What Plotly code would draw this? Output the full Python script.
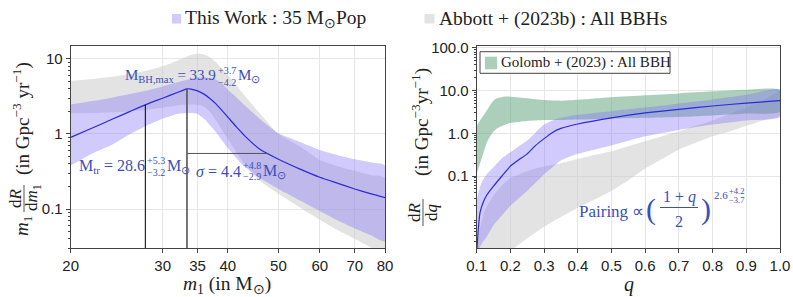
import numpy as np
import plotly.graph_objects as go

W, H = 793, 297

# ---------------- data: left panel (primary mass) ----------------
M1_GRID = [20, 22, 24, 26, 28, 30, 32, 33.4, 34, 35, 36, 37, 38, 39, 40, 41.5, 43, 46, 50, 55, 60,
           65, 70, 75, 80]
M1_MEDIAN = [0.90, 1.20, 1.57, 2.00, 2.50, 3.00, 3.57, 4.00, 3.97, 3.75, 3.40, 2.95, 2.50, 2.05,
             1.68, 1.25, 0.96, 0.63, 0.46, 0.34, 0.265, 0.22, 0.185, 0.16, 0.142]
M1_LAV_UP = [2.47, 2.75, 3.05, 3.4, 3.8, 4.3, 4.9, 5.3, 5.45, 5.6, 5.65, 5.6, 5.3, 4.7, 3.9, 3.1,
             2.45, 1.6, 1.02, 0.78, 0.61, 0.52, 0.46, 0.42, 0.38]
M1_LAV_LO = [0.38, 0.55, 0.72, 1.0, 1.3, 1.6, 1.85, 1.9, 1.9, 1.85, 1.6, 1.3, 1.05, 0.82, 0.65,
             0.48, 0.37, 0.26, 0.185, 0.13, 0.094, 0.07, 0.055, 0.045, 0.037]
M1_GRAY_UP = [5.1, 5.4, 5.8, 6.3, 7.0, 8.0, 9.5, 10.8, 11.3, 11.7, 11.5, 10.5, 9.0, 7.4, 6.0, 4.5,
              3.3, 1.9, 1.0, 0.68, 0.45, 0.37, 0.32, 0.285, 0.26]
M1_GRAY_LO = [1.9, 1.9, 1.95, 2.0, 2.1, 2.25, 2.4, 2.47, 2.48, 2.45, 2.3, 1.95, 1.5, 1.12, 0.85,
              0.58, 0.4, 0.24, 0.16, 0.105, 0.072, 0.052, 0.04, 0.031, 0.025]
M_TR_LINE = 27.8
M_BH_LINE = 33.4
SIGMA_LEVEL = 0.55

# ---------------- data: right panel (mass ratio) ----------------
Q_GRID = [0.1, 0.105, 0.11, 0.12, 0.13, 0.15, 0.175, 0.2, 0.225, 0.25, 0.275, 0.3, 0.325, 0.35,
          0.4, 0.5, 0.6, 0.7, 0.8, 0.9, 1.0]
Q_MEDIAN = [0.0015, 0.006, 0.014, 0.025, 0.036, 0.058, 0.10, 0.17, 0.24, 0.33, 0.52, 0.75, 1.05,
            1.3, 1.65, 2.3, 3.0, 3.65, 4.35, 5.1, 5.8]
Q_LAV_UP = [0.027, 0.04, 0.056, 0.085, 0.11, 0.16, 0.26, 0.36, 0.5, 0.68, 1.05, 1.6, 2.0, 2.3,
            2.7, 3.3, 4.0, 5.0, 6.2, 8.0, 10.5]
Q_LAV_LO = [0.0015, 0.0018, 0.0022, 0.003, 0.0038, 0.007, 0.012, 0.02, 0.03, 0.045, 0.07, 0.11,
            0.16, 0.23, 0.33, 0.52, 0.85, 1.2, 1.6, 2.0, 2.4]

Q_GRAY = [0.1, 0.11, 0.125, 0.15, 0.175, 0.2, 0.25, 0.3, 0.35, 0.4, 0.45, 0.5, 0.55, 0.6, 0.65,
          0.7, 0.75, 0.8, 0.85, 0.9, 0.95, 1.0]
Q_GRAY_UP = [0.0018, 0.006, 0.016, 0.035, 0.06, 0.09, 0.13, 0.17, 0.2, 0.25, 0.31, 0.38, 0.5,
             0.65, 0.85, 1.1, 1.5, 2.0, 2.8, 4.0, 6.0, 9.5]
Q_GRAY_LO = [0.0015, 0.0015, 0.0015, 0.0015, 0.0015, 0.0018, 0.0035, 0.0065, 0.011, 0.018, 0.028,
             0.045, 0.08, 0.15, 0.25, 0.42, 0.6, 0.85, 1.1, 1.5, 2.0, 2.6]

Q_GREEN = [0.1, 0.11, 0.12, 0.13, 0.14, 0.15, 0.16, 0.18, 0.2, 0.25, 0.3, 0.35, 0.4, 0.5, 0.6,
           0.7, 0.8, 0.9, 1.0]
Q_GREEN_UP = [1.5, 2.0, 2.6, 3.4, 4.6, 5.8, 6.6, 7.2, 7.2, 6.6, 6.0, 5.8, 6.1, 7.0, 7.8, 8.6,
              9.6, 10.5, 10.3]
Q_GREEN_LO = [0.115, 0.2, 0.35, 0.6, 0.85, 1.1, 1.3, 1.55, 1.75, 1.95, 2.05, 2.05, 2.1, 2.2, 2.3,
              2.4, 2.6, 2.9, 3.2]

# ---------------- ticks ----------------
LEFT_X_TICKS = [20, 30, 35, 40, 50, 60, 70, 80]
LEFT_X_TEXT = ["20", "30", "35", "40", "50", "60", "70", "80"]
LEFT_Y_TICKS = [10, 1, 0.1]
LEFT_Y_TEXT = ["10", "1", "0.1"]
RIGHT_X_TICKS = [0.1, 0.2, 0.3, 0.4, 0.5, 0.6, 0.7, 0.8, 0.9, 1.0]
RIGHT_X_TEXT = ["0.1", "0.2", "0.3", "0.4", "0.5", "0.6", "0.7", "0.8", "0.9", "1.0"]
RIGHT_Y_TICKS = [100, 10, 1, 0.1]
RIGHT_Y_TEXT = ["100.0", "10.0", "1.0", "0.1"]
LEFT_Y_MINOR = [m * 10.0 ** e for e in (-2, -1, 0) for m in range(2, 10)]
RIGHT_Y_MINOR = [m * 10.0 ** e for e in (-3, -2, -1, 0, 1) for m in range(2, 10)]

# ---------------- style ----------------
SERIF = "Liberation Serif"
SANS = "Liberation Sans"
LAV = "rgba(128,108,250,0.36)"
GRAY = "rgba(200,200,200,0.5)"
GREEN = "rgba(88,160,118,0.5)"
LINE_BLUE = "#2b2bdb"
TXT_BLUE = "#3a4fb8"
INK = "#222222"

fig = go.Figure()


def band(x, lo, hi, color, name, xa, ya):
    fig.add_trace(go.Scatter(
        x=list(x) + list(x)[::-1], y=list(hi) + list(lo)[::-1],
        fill="toself", fillcolor=color, line=dict(width=0, shape="spline", smoothing=0.6),
        mode="lines", name=name, showlegend=False, hoverinfo="skip", xaxis=xa, yaxis=ya))


def logi(x, xs, ys):
    return float(10 ** np.interp(np.log10(x), np.log10(xs), np.log10(ys)))


# left panel
band(M1_GRID, M1_GRAY_LO, M1_GRAY_UP, GRAY, "Abbott+(2023b): All BBHs", "x", "y")
band(M1_GRID, M1_LAV_LO, M1_LAV_UP, LAV, "This Work: 35 Msun Pop", "x", "y")
fig.add_trace(go.Scatter(x=M1_GRID, y=M1_MEDIAN, mode="lines",
                         line=dict(color=LINE_BLUE, width=1.2, shape="spline", smoothing=0.5),
                         showlegend=False, hoverinfo="skip", xaxis="x", yaxis="y"))

y_floor = 1e-3
tr_top = logi(M_TR_LINE, M1_GRID, M1_MEDIAN)
bh_top = logi(M_BH_LINE, M1_GRID, M1_MEDIAN)
right = [i for i, m in enumerate(M1_GRID) if m >= M_BH_LINE]
rm = [M1_GRID[i] for i in right][::-1]
rv = [M1_MEDIAN[i] for i in right][::-1]
sig_end = float(10 ** np.interp(np.log10(SIGMA_LEVEL), np.log10(rv), np.log10(rm)))

fig.add_trace(go.Scatter(x=[M_TR_LINE, M_TR_LINE], y=[y_floor, tr_top], mode="lines",
                         line=dict(color="#111111", width=1.1), showlegend=False,
                         hoverinfo="skip", xaxis="x", yaxis="y"))
fig.add_trace(go.Scatter(x=[M_BH_LINE, M_BH_LINE], y=[y_floor, bh_top], mode="lines",
                         line=dict(color="#555555", width=1.6), showlegend=False,
                         hoverinfo="skip", xaxis="x", yaxis="y"))
fig.add_trace(go.Scatter(x=[M_BH_LINE, sig_end], y=[SIGMA_LEVEL, SIGMA_LEVEL], mode="lines",
                         line=dict(color="#555555", width=1.0), showlegend=False,
                         hoverinfo="skip", xaxis="x", yaxis="y"))

# right panel
band(Q_GRAY, Q_GRAY_LO, Q_GRAY_UP, GRAY, "Abbott+(2023b): All BBHs", "x2", "y2")
band(Q_GREEN, Q_GREEN_LO, Q_GREEN_UP, GREEN, "Golomb+(2023): All BBH", "x2", "y2")
band(Q_GRID, Q_LAV_LO, Q_LAV_UP, LAV, "This Work: 35 Msun Pop", "x2", "y2")
fig.add_trace(go.Scatter(x=Q_GRID, y=Q_MEDIAN, mode="lines",
                         line=dict(color=LINE_BLUE, width=1.2, shape="spline", smoothing=0.5),
                         showlegend=False, hoverinfo="skip", xaxis="x2", yaxis="y2"))

# ---------------- layout ----------------
TOP, BOT = 46.0, 248.3
ydom = [1 - BOT / H, 1 - TOP / H]
common = dict(showline=True, mirror=True, linecolor="#444444", linewidth=1,
              ticks="outside", ticklen=4, tickcolor="#444444", showgrid=True,
              gridcolor="#e6e6e6", gridwidth=1, zeroline=False, automargin=False,
              tickfont=dict(family=SANS, size=15, color=INK))

fig.update_layout(
    width=W, height=H, margin=dict(l=0, r=0, t=0, b=0, autoexpand=False),
    paper_bgcolor="white", plot_bgcolor="white", showlegend=False,
    xaxis=dict(domain=[70.7 / W, 385 / W], type="log", range=[np.log10(20), np.log10(80)],
               tickmode="array", tickvals=LEFT_X_TICKS, ticktext=LEFT_X_TEXT, anchor="y", **common),
    yaxis=dict(domain=ydom, type="log", range=[-1.524, 1.173], tickmode="array",
               tickvals=LEFT_Y_TICKS, ticktext=LEFT_Y_TEXT, anchor="x",
               minor=dict(tickmode="array", tickvals=LEFT_Y_MINOR, ticks="outside", ticklen=2,
                          tickcolor="#444444", showgrid=False), **common),
    xaxis2=dict(domain=[476.7 / W, 780 / W], range=[0.1, 1.0], tickmode="array",
                tickvals=RIGHT_X_TICKS, ticktext=RIGHT_X_TEXT, anchor="y2", **common),
    yaxis2=dict(domain=ydom, type="log", range=[-2.693, 2.044], tickmode="array",
                tickvals=RIGHT_Y_TICKS, ticktext=RIGHT_Y_TEXT, anchor="x2",
                minor=dict(tickmode="array", tickvals=RIGHT_Y_MINOR, ticks="outside", ticklen=2,
                           tickcolor="#444444", showgrid=False), **common),
)


def px(x):
    return x / W


def py(y):
    return 1 - y / H


def ann(text, x, y, size, color=TXT_BLUE, xanchor="center", yanchor="middle", family=SERIF, angle=0):
    fig.add_annotation(text=text, x=px(x), y=py(y), xref="paper", yref="paper", showarrow=False,
                       font=dict(size=size, color=color, family=family), xanchor=xanchor,
                       yanchor=yanchor, textangle=angle, borderpad=0)


def rect(x0, y0, x1, y1, fill, line=None):
    fig.add_shape(type="rect", xref="paper", yref="paper", x0=px(x0), x1=px(x1), y0=py(y1), y1=py(y0),
                  fillcolor=fill, line=dict(width=1 if line else 0, color=line or fill), layer="above")


def hline(x0, x1, y, color, width=1):
    fig.add_shape(type="line", xref="paper", yref="paper", x0=px(x0), x1=px(x1), y0=py(y), y1=py(y),
                  line=dict(color=color, width=width), layer="above")


def vline(x, y0, y1, color, width=1):
    fig.add_shape(type="line", xref="paper", yref="paper", x0=px(x), x1=px(x), y0=py(y0), y1=py(y1),
                  line=dict(color=color, width=width), layer="above")


def pm_label(main, plus, minus, x_end, y, size=15, dy_up=6, dy_dn=6, sup_w=20):
    ann(main, x_end, y, size, xanchor="right")
    ann(plus, x_end, y - dy_up, 10, xanchor="left")
    ann(minus, x_end, y + dy_dn, 10, xanchor="left")
    ann("M<sub>⊙</sub>", x_end + sup_w, y, size, xanchor="left")


# left panel labels
pm_label("M<sub>BH,max</sub> = 33.9", "+3.7", "−4.2", 217, 76)
pm_label("M<sub>tr</sub> = 28.6", "+5.3", "−3.2", 145.5, 166, size=16)
pm_label("<i>σ</i> = 4.4", "+4.8", "−2.9", 242, 171, size=16)

# pairing formula (right panel)
ann("Pairing ∝", 611, 211, 17)
ann("(", 651, 209, 30)
ann("1 + <i>q</i>", 679, 197, 16)
hline(660, 698, 207.5, TXT_BLUE, 1)
ann("2", 679, 221, 16)
ann(")", 706, 209, 30)
ann("2.6", 721, 195, 11)
ann("+4.2", 727.5, 191, 8.5, xanchor="left")
ann("−3.7", 727.5, 200, 8.5, xanchor="left")

# top legend
rect(172, 14, 181, 23.5, LAV)
ann("This Work : 35 M<sub>⊙</sub>Pop", 184, 19, 19.5, color=INK, xanchor="left")
rect(424.5, 14, 434.5, 23.5, GRAY)
ann("Abbott + (2023b) : All BBHs", 438, 19, 19.5, color=INK, xanchor="left")

# in-panel legend (right)
rect(480, 51.7, 670, 73.3, "white", "#444444")
rect(485, 56.7, 497, 69.3, GREEN)
ann("Golomb + (2023) : All BBH", 500, 62.5, 15, color=INK, xanchor="left")

# axis titles
ann("<i>m</i><sub>1</sub> (in M<sub>⊙</sub>)", 227, 285, 19.5, color=INK)
ann("<i>q</i>", 629, 284, 20, color=INK)

ann("(in Gpc<sup>−3</sup> yr<sup>−1</sup>)", 21, 119, 19, color=INK, angle=-90)
ann("d<i>R</i>", 15, 198, 17, color=INK, angle=-90)
ann("d<i>m</i><sub>1</sub>", 33, 198, 17, color=INK, angle=-90)
vline(24, 185, 212, "#555555", 1)
ann("<i>m</i><sub>1</sub>", 23, 226, 19, color=INK, angle=-90)

ann("(in Gpc<sup>−3</sup>yr<sup>−1</sup>)", 420, 122, 19, color=INK, angle=-90)
ann("d<i>R</i>", 414, 212, 17, color=INK, angle=-90)
ann("d<i>q</i>", 431, 212, 17, color=INK, angle=-90)
vline(423, 199, 226, "#555555", 1)

fig.write_html("out.html", include_plotlyjs=True, config={"displayModeBar": False},
               post_script="document.body.style.margin='0';document.body.style.overflow='hidden';")
